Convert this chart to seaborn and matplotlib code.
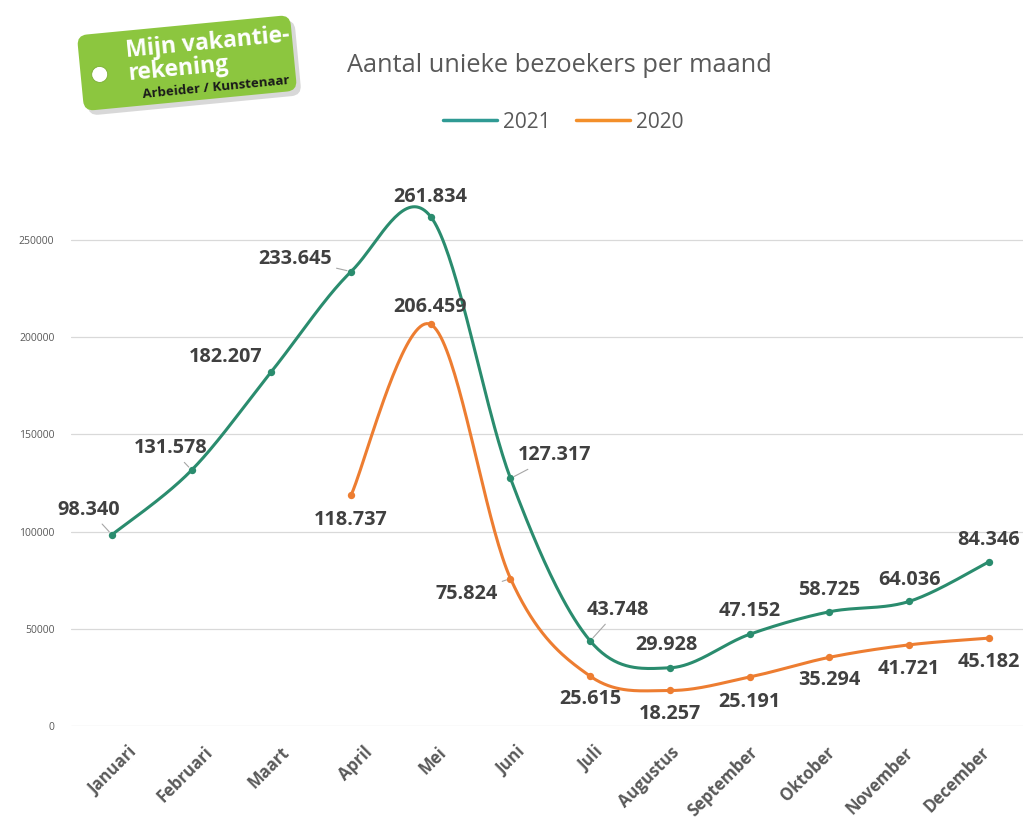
import numpy as np
import pandas as pd
import matplotlib
matplotlib.use("Agg")
import matplotlib.pyplot as plt
import seaborn as sns
from matplotlib.patches import FancyBboxPatch, Circle
from matplotlib.transforms import Affine2D, ScaledTranslation
from matplotlib.lines import Line2D

# ---------------- data ----------------
months = ["Januari", "Februari", "Maart", "April", "Mei", "Juni", "Juli",
          "Augustus", "September", "Oktober", "November", "December"]
v2021 = [98340, 131578, 182207, 233645, 261834, 127317, 43748, 29928,
         47152, 58725, 64036, 84346]
v2020 = [None, None, None, 118737, 206459, 75824, 25615, 18257, 25191,
         35294, 41721, 45182]
yticks = [0, 50000, 100000, 150000, 200000, 250000]

# ---------------- styles ----------------
C21 = "#2A8C6E"
C20 = "#ED7D31"
LEG21 = "#2F9A94"
LEG20 = "#F38F2A"
LBL = "#404040"
GRAY = "#595959"
FONT = "Open Sans"

# label offsets in pixels (dx, dy) and whether a leader line is drawn
off21 = [(-23, 25, True), (-21, 22, True), (-46, 15, False), (-56, 13, True),
         (-1, 20, False), (44, 23, True), (28, 31, True), (-3, 23, False),
         (0, 23, False), (0, 22, False), (0, 21, False), (0, 22, False)]
off20 = [None, None, None, (0, -25, False), (-1, 17, False), (-44, -15, True),
         (0, -23, False), (0, -24, False), (0, -25, False), (0, -23, False),
         (0, -24, False), (0, -24, False)]
# horizontal pixel shift of each month label
tick_dx = [25, 21, 18, 22, 16, 15, 13, 10, 8, 6, 4, 1]


def smooth(xs, ys, n=40):
    """Catmull-Rom (Excel-like) smoothing between data points for drawing."""
    xs = np.asarray(xs, float)
    ys = np.asarray(ys, float)
    P = np.column_stack([xs, ys])
    out = []
    m = len(P)
    for i in range(m - 1):
        p0 = P[i - 1] if i > 0 else P[i]
        p1 = P[i]
        p2 = P[i + 1]
        p3 = P[i + 2] if i + 2 < m else P[i + 1]
        c1 = p1 + (p2 - p0) / 6.0
        c2 = p2 - (p3 - p1) / 6.0
        t = np.linspace(0, 1, n, endpoint=(i == m - 2))[:, None]
        seg = ((1 - t) ** 3) * p1 + 3 * ((1 - t) ** 2) * t * c1 + \
            3 * (1 - t) * t ** 2 * c2 + t ** 3 * p2
        out.append(seg)
    a = np.vstack(out)
    return a[:, 0], a[:, 1]


sns.set_theme(style="white")
plt.rcParams["font.family"] = [FONT, "DejaVu Sans"]

W, H = 1023, 821
fig = plt.figure(figsize=(W / 100, H / 100), dpi=100)
ax = fig.add_axes([71 / W, 95 / H, (W - 71) / W, (726 - 162) / H])

xpos = np.arange(len(months))

for vals, col, name in [(v2021, C21, "2021"), (v2020, C20, "2020")]:
    idx = [i for i, v in enumerate(vals) if v is not None]
    xv = xpos[idx]
    yv = [vals[i] for i in idx]
    sx, sy = smooth(xv, yv)
    sns.lineplot(x=sx, y=sy, color=col, lw=2.2, ax=ax, sort=False,
                 estimator=None, legend=False)
    sns.scatterplot(x=xv, y=yv, color=col, s=28, edgecolor=col,
                    linewidth=0, ax=ax, legend=False, zorder=5)

for vals, offs in [(v2021, off21), (v2020, off20)]:
    for i, v in enumerate(vals):
        if v is None:
            continue
        dx, dy, leader = offs[i]
        txt = f"{v:,}".replace(",", ".")
        kw = {}
        if leader:
            kw["arrowprops"] = dict(arrowstyle="-", color="#A6A6A6", lw=0.8,
                                    shrinkA=1, shrinkB=3)
        ax.annotate(txt, (xpos[i], v), xytext=(dx, dy),
                    textcoords="offset pixels", ha="center", va="center",
                    fontsize=14.3, fontweight="bold", color=LBL,
                    family=[FONT, "DejaVu Sans"], zorder=6, **kw)

ax.set_xlim(-0.514, 11.43)
ax.set_ylim(0, 290000)
ax.set_yticks(yticks)
ax.set_yticklabels([str(t) for t in yticks], fontsize=7.5, color=GRAY)
ax.set_xticks(xpos)
ax.set_xticklabels(months, rotation=45, ha="right", va="center",
                   rotation_mode="anchor",
                   fontsize=12, fontweight="bold", color=GRAY)
ax.tick_params(axis="x", length=0, pad=17)
ax.tick_params(axis="y", length=0, pad=12)
for lab, dx in zip(ax.get_xticklabels(), tick_dx):
    lab.set_transform(lab.get_transform() +
                      ScaledTranslation((dx - 3) / 100, 0, fig.dpi_scale_trans))
ax.grid(axis="y", color="#D9D9D9", lw=0.9)
ax.grid(axis="x", visible=False)
for s in ax.spines.values():
    s.set_visible(False)
ax.set_xlabel("")
ax.set_ylabel("")

# title
fig.text(559 / W, 1 - 65 / H, "Aantal unieke bezoekers per maand",
         ha="center", va="center", fontsize=18.3, color=GRAY)

# legend
handles = [Line2D([0], [0], color=LEG21, lw=2.5),
           Line2D([0], [0], color=LEG20, lw=2.5)]
fig.legend(handles, ["2021", "2020"], loc="center",
           bbox_to_anchor=(563 / W, 1 - 122 / H), ncol=2, frameon=False,
           fontsize=15, handlelength=2.6, handletextpad=0.3,
           columnspacing=1.2, labelcolor=GRAY)

# logo tag
cx, cy = 1.87, (H - 63) / 100
ang = 5.5
rot = Affine2D().rotate_deg_around(cx, cy, ang) + fig.dpi_scale_trans
tw, th = 2.14, 0.76
shadow = FancyBboxPatch((cx - tw / 2 + 0.04, cy - th / 2 - 0.05), tw, th,
                        boxstyle="round,pad=0,rounding_size=0.1",
                        transform=rot, facecolor="#BFBFBF", edgecolor="none",
                        alpha=0.6, zorder=1)
tag = FancyBboxPatch((cx - tw / 2, cy - th / 2), tw, th,
                     boxstyle="round,pad=0,rounding_size=0.1",
                     transform=rot, facecolor="#8CC63F", edgecolor="none",
                     zorder=2)
hole = Circle((cx - tw / 2 + 0.19, cy - 0.03), 0.08, transform=rot,
              facecolor="white", edgecolor="#7AAE35", lw=0.6, zorder=3)
for p in (shadow, tag, hole):
    fig.add_artist(p)
fig.text(cx - 0.60, cy + 0.18, "Mijn vakantie-", transform=rot, rotation=ang,
         rotation_mode="anchor", ha="left", va="center", fontsize=16.5,
         fontweight="bold", color="white", zorder=4)
fig.text(cx - 0.60, cy - 0.05, "rekening", transform=rot, rotation=ang,
         rotation_mode="anchor", ha="left", va="center", fontsize=16.5,
         fontweight="bold", color="white", zorder=4)
fig.text(cx - 0.47, cy - 0.27, "Arbeider / Kunstenaar", transform=rot,
         rotation=ang, rotation_mode="anchor", ha="left", va="center",
         fontsize=9.5, fontweight="bold", color="#1A1A1A", zorder=4)

fig.savefig("out.png", dpi=100)
